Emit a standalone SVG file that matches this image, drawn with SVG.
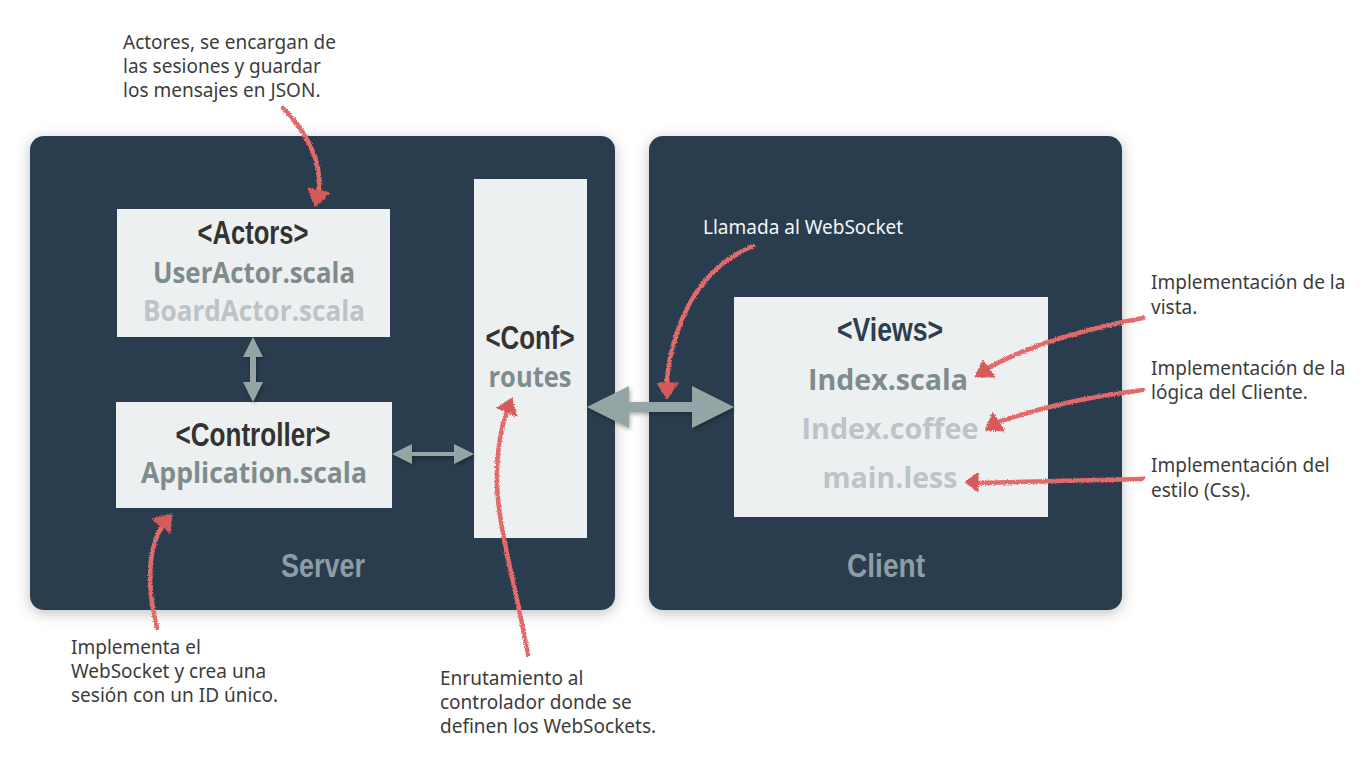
<svg xmlns="http://www.w3.org/2000/svg" width="1370" height="758" viewBox="0 0 1370 758">
<defs>
<style>
.panel{fill:#2c3e50;}
.box{fill:#ecf0f1;}
.hdr{font-family:"Liberation Sans",Arial,sans-serif;font-weight:bold;font-size:33px;text-anchor:middle;}
.file{font-family:"Open Sans","Liberation Sans",sans-serif;font-weight:bold;font-size:29px;text-anchor:middle;}
.ann{font-family:"Noto Sans","Liberation Sans",sans-serif;font-size:19px;fill:#3c3c3c;}
.gray{fill:#95a5a6;}
.red{fill:none;stroke:#e36b6b;stroke-width:4.5;stroke-linecap:round;}
.redhead{fill:#d65a5a;stroke:#d65a5a;stroke-width:1;stroke-linejoin:round;}
</style>
<filter id="shadow" x="-10%" y="-10%" width="120%" height="120%">
<feDropShadow dx="0" dy="3" stdDeviation="7" flood-color="#000" flood-opacity="0.25"/>
</filter>
<filter id="ashadow" x="-20%" y="-20%" width="140%" height="140%">
<feDropShadow dx="1" dy="2" stdDeviation="2" flood-color="#000" flood-opacity="0.35"/>
</filter>
<filter id="rough" x="-20%" y="-20%" width="140%" height="140%">
<feTurbulence type="fractalNoise" baseFrequency="0.9" numOctaves="2" seed="3" result="n"/>
<feDisplacementMap in="SourceGraphic" in2="n" scale="3.5" xChannelSelector="R" yChannelSelector="G"/>
</filter>
</defs>
<rect width="1370" height="758" fill="#ffffff"/>

<g id="server">
<rect class="panel" x="30" y="136" width="585" height="474" rx="14" filter="url(#shadow)"/>
<text class="hdr" x="323" y="577" fill="#8e9ca3" textLength="84" lengthAdjust="spacingAndGlyphs">Server</text>
</g>
<g id="client">
<rect class="panel" x="649" y="136" width="473" height="474" rx="14" filter="url(#shadow)"/>
<text class="hdr" x="886" y="577" fill="#8e9ca3" textLength="78" lengthAdjust="spacingAndGlyphs">Client</text>
</g>

<g id="actors">
<rect class="box" x="117" y="209" width="273" height="128"/>
<text class="hdr" x="253" y="244" fill="#333333" textLength="111" lengthAdjust="spacingAndGlyphs">&lt;Actors&gt;</text>
<text class="file" x="254" y="283" fill="#7f8c8d" textLength="202" lengthAdjust="spacingAndGlyphs">UserActor.scala</text>
<text class="file" x="254" y="321" fill="#bdc3c7" textLength="222" lengthAdjust="spacingAndGlyphs">BoardActor.scala</text>
</g>

<g id="controller">
<rect class="box" x="116" y="402" width="276" height="106"/>
<text class="hdr" x="253" y="446" fill="#333333" textLength="155" lengthAdjust="spacingAndGlyphs">&lt;Controller&gt;</text>
<text class="file" x="254" y="483" fill="#7f8c8d" textLength="226" lengthAdjust="spacingAndGlyphs">Application.scala</text>
</g>

<g id="conf">
<rect class="box" x="474" y="179" width="113" height="359"/>
<text class="hdr" x="530" y="349" fill="#333333" textLength="89" lengthAdjust="spacingAndGlyphs">&lt;Conf&gt;</text>
<text class="file" x="530" y="387" fill="#7f8c8d" textLength="83" lengthAdjust="spacingAndGlyphs">routes</text>
</g>

<g id="views">
<rect class="box" x="734" y="297" width="314" height="220"/>
<text class="hdr" x="890" y="341" fill="#2c3e50" textLength="106" lengthAdjust="spacingAndGlyphs">&lt;Views&gt;</text>
<text class="file" x="888" y="390" fill="#7f8c8d" font-size="32" textLength="160" lengthAdjust="spacingAndGlyphs">Index.scala</text>
<text class="file" x="890" y="439" fill="#bdc3c7" font-size="32" textLength="177" lengthAdjust="spacingAndGlyphs">Index.coffee</text>
<text class="file" x="890" y="488" fill="#bdc3c7" font-size="32" textLength="135" lengthAdjust="spacingAndGlyphs">main.less</text>
</g>

<g id="connectors">
<g class="gray" filter="url(#ashadow)">
<polygon points="253,337 263,357 256,357 256,382 263,382 253,402 243,382 250,382 250,357 243,357"/>
<polygon points="392,454 412,444 412,452 454,452 454,444 474,454 454,464 454,456 412,456 412,464"/>
<polygon points="587,407 629,386 629,402 692,402 692,386 734,407 692,428 692,412 629,412 629,428"/>
</g>
<g filter="url(#rough)">
<path class="red" d="M283,108 C305,130 322,160 319,190"/>
<polygon class="redhead" points="308,188 330,193 315,207"/>
<path class="red" d="M157,628 C146,585 148,545 164,524"/>
<polygon class="redhead" points="152,519 170,533 172,514"/>
<path class="red" d="M528,655 C515,580 495,520 497,470 C498,440 502,425 507,412"/>
<polygon class="redhead" points="497,408 517,416 512,398"/>
<path class="red" d="M753,246 C707,265 683,305 672,350 C668,365 667,375 667,385"/>
<polygon class="redhead" points="657,383 678,383 667,399"/>
<path class="red" d="M1143,318 C1080,330 1030,345 988,368"/>
<polygon class="redhead" points="983,360 995,377 975,377"/>
<path class="red" d="M1143,390 C1080,398 1040,408 998,422"/>
<polygon class="redhead" points="993,413 1005,431 985,430"/>
<path class="red" d="M1143,479 C1080,480 1020,482 976,483"/>
<polygon class="redhead" points="978,473 978,492 965,482"/>
</g>
</g>

<g id="annotations">
<text class="ann" x="123" y="49">Actores, se encargan de</text>
<text class="ann" x="123" y="73">las sesiones y guardar</text>
<text class="ann" x="123" y="97">los mensajes en JSON.</text>
<text class="ann" x="703" y="234" style="fill:#f4f6f6">Llamada al WebSocket</text>
<text class="ann" x="1151" y="289">Implementación de la</text>
<text class="ann" x="1151" y="314">vista.</text>
<text class="ann" x="1151" y="375">Implementación de la</text>
<text class="ann" x="1151" y="399">lógica del Cliente.</text>
<text class="ann" x="1151" y="472">Implementación del</text>
<text class="ann" x="1151" y="497">estilo (Css).</text>
<text class="ann" x="71" y="654">Implementa el</text>
<text class="ann" x="71" y="678">WebSocket y crea una</text>
<text class="ann" x="71" y="702">sesión con un ID único.</text>
<text class="ann" x="440" y="685">Enrutamiento al</text>
<text class="ann" x="440" y="709">controlador donde se</text>
<text class="ann" x="440" y="733">definen los WebSockets.</text>
</g>
</svg>
